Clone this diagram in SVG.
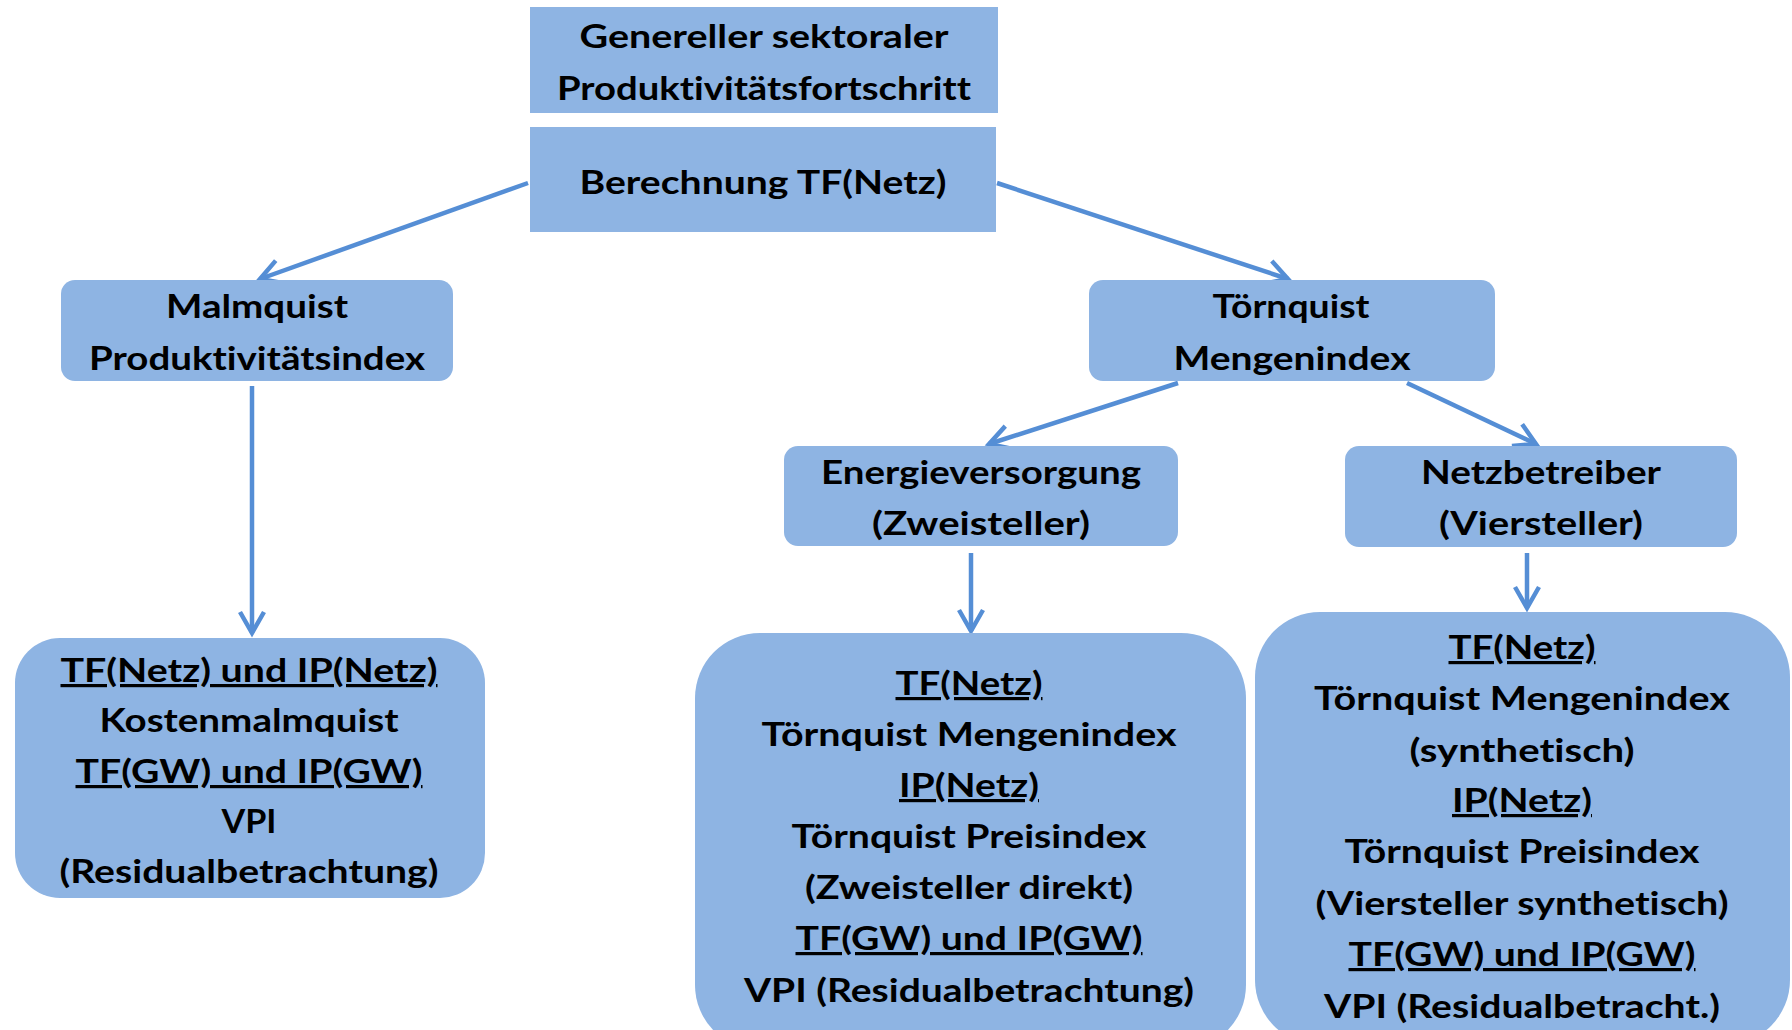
<svg xmlns="http://www.w3.org/2000/svg" width="1792" height="1030" viewBox="0 0 1792 1030">
<style>
.box{fill:#8EB4E3;}
.t{font-family:Lato,"Open Sans","Liberation Sans",sans-serif;font-weight:bold;font-size:32px;fill:#000;text-anchor:middle;font-variant-ligatures:none;font-feature-settings:"liga" 0,"clig" 0;}
.u{text-decoration:underline;}
.c{fill:none;stroke:#558ED5;stroke-width:4.5;}
</style>
<defs>
<marker id="ah" markerUnits="userSpaceOnUse" markerWidth="40" markerHeight="40" viewBox="-30 -20 40 40" refX="0" refY="0" orient="auto">
<path d="M-21,-12 L0,0 L-21,12" fill="none" stroke="#558ED5" stroke-width="4.5" stroke-linejoin="miter"/>
</marker>
</defs>
<rect width="1792" height="1030" fill="#fff"/>
<g id="connectors">
<line class="c" x1="528" y1="183" x2="260" y2="279" marker-end="url(#ah)"/>
<line class="c" x1="997" y1="183" x2="1288" y2="279" marker-end="url(#ah)"/>
<line class="c" x1="252" y1="386" x2="252" y2="633" marker-end="url(#ah)"/>
<line class="c" x1="1178" y1="383" x2="989" y2="444" marker-end="url(#ah)"/>
<line class="c" x1="1407" y1="383" x2="1536" y2="444" marker-end="url(#ah)"/>
<line class="c" x1="971" y1="553" x2="971" y2="631" marker-end="url(#ah)"/>
<line class="c" x1="1527" y1="553" x2="1527" y2="608" marker-end="url(#ah)"/>
</g>
<g id="n-genereller">
<rect class="box" x="530" y="7" width="468" height="106"/>
<text class="t" x="764" y="48" textLength="369" lengthAdjust="spacingAndGlyphs">Genereller sektoraler</text>
<text class="t" x="764" y="100" textLength="414" lengthAdjust="spacingAndGlyphs">Produktivitätsfortschritt</text>
</g>
<g id="n-berechnung">
<rect class="box" x="530" y="127" width="466" height="105"/>
<text class="t" x="763" y="194" textLength="367" lengthAdjust="spacingAndGlyphs">Berechnung TF(Netz)</text>
</g>
<g id="n-malmquist">
<rect class="box" x="61" y="280" width="392" height="101" rx="14"/>
<text class="t" x="257" y="318" textLength="182" lengthAdjust="spacingAndGlyphs">Malmquist</text>
<text class="t" x="257" y="370" textLength="336" lengthAdjust="spacingAndGlyphs">Produktivitätsindex</text>
</g>
<g id="n-toernquist">
<rect class="box" x="1089" y="280" width="406" height="101" rx="14"/>
<text class="t" x="1291" y="318" textLength="157" lengthAdjust="spacingAndGlyphs">Törnquist</text>
<text class="t" x="1292" y="370" textLength="237" lengthAdjust="spacingAndGlyphs">Mengenindex</text>
</g>
<g id="n-energie">
<rect class="box" x="784" y="446" width="394" height="100" rx="14"/>
<text class="t" x="981" y="484" textLength="320" lengthAdjust="spacingAndGlyphs">Energieversorgung</text>
<text class="t" x="981" y="535" textLength="218" lengthAdjust="spacingAndGlyphs">(Zweisteller)</text>
</g>
<g id="n-netz">
<rect class="box" x="1345" y="446" width="392" height="101" rx="14"/>
<text class="t" x="1541" y="484" textLength="240" lengthAdjust="spacingAndGlyphs">Netzbetreiber</text>
<text class="t" x="1541" y="535" textLength="204" lengthAdjust="spacingAndGlyphs">(Viersteller)</text>
</g>
<g id="n-malmquist-detail">
<rect class="box" x="15" y="638" width="470" height="260" rx="45"/>
<text class="t u" x="249" y="682" textLength="377" lengthAdjust="spacingAndGlyphs">TF(Netz) und IP(Netz)</text>
<text class="t" x="249" y="732" textLength="299" lengthAdjust="spacingAndGlyphs">Kostenmalmquist</text>
<text class="t u" x="249" y="783" textLength="347" lengthAdjust="spacingAndGlyphs">TF(GW) und IP(GW)</text>
<text class="t" x="249" y="833" textLength="55" lengthAdjust="spacingAndGlyphs">VPI</text>
<text class="t" x="249" y="883" textLength="379" lengthAdjust="spacingAndGlyphs">(Residualbetrachtung)</text>
</g>
<g id="n-energie-detail">
<rect class="box" x="695" y="633" width="551" height="417" rx="65"/>
<text class="t u" x="969" y="695" textLength="147" lengthAdjust="spacingAndGlyphs">TF(Netz)</text>
<text class="t" x="969" y="746" textLength="415" lengthAdjust="spacingAndGlyphs">Törnquist  Mengenindex</text>
<text class="t u" x="969" y="797" textLength="140" lengthAdjust="spacingAndGlyphs">IP(Netz)</text>
<text class="t" x="969" y="848" textLength="355" lengthAdjust="spacingAndGlyphs">Törnquist  Preisindex</text>
<text class="t" x="969" y="899" textLength="328" lengthAdjust="spacingAndGlyphs">(Zweisteller direkt)</text>
<text class="t u" x="969" y="950" textLength="347" lengthAdjust="spacingAndGlyphs">TF(GW) und IP(GW)</text>
<text class="t" x="969" y="1002" textLength="450" lengthAdjust="spacingAndGlyphs">VPI (Residualbetrachtung)</text>
</g>
<g id="n-netz-detail">
<rect class="box" x="1255" y="612" width="535" height="433" rx="65"/>
<text class="t u" x="1522" y="659" textLength="147" lengthAdjust="spacingAndGlyphs">TF(Netz)</text>
<text class="t" x="1522" y="710" textLength="416" lengthAdjust="spacingAndGlyphs">Törnquist  Mengenindex</text>
<text class="t" x="1522" y="762" textLength="225" lengthAdjust="spacingAndGlyphs">(synthetisch)</text>
<text class="t u" x="1522" y="812" textLength="140" lengthAdjust="spacingAndGlyphs">IP(Netz)</text>
<text class="t" x="1522" y="863" textLength="355" lengthAdjust="spacingAndGlyphs">Törnquist  Preisindex</text>
<text class="t" x="1522" y="915" textLength="413" lengthAdjust="spacingAndGlyphs">(Viersteller synthetisch)</text>
<text class="t u" x="1522" y="966" textLength="347" lengthAdjust="spacingAndGlyphs">TF(GW) und IP(GW)</text>
<text class="t" x="1522" y="1018" textLength="396" lengthAdjust="spacingAndGlyphs">VPI (Residualbetracht.)</text>
</g>
</svg>
